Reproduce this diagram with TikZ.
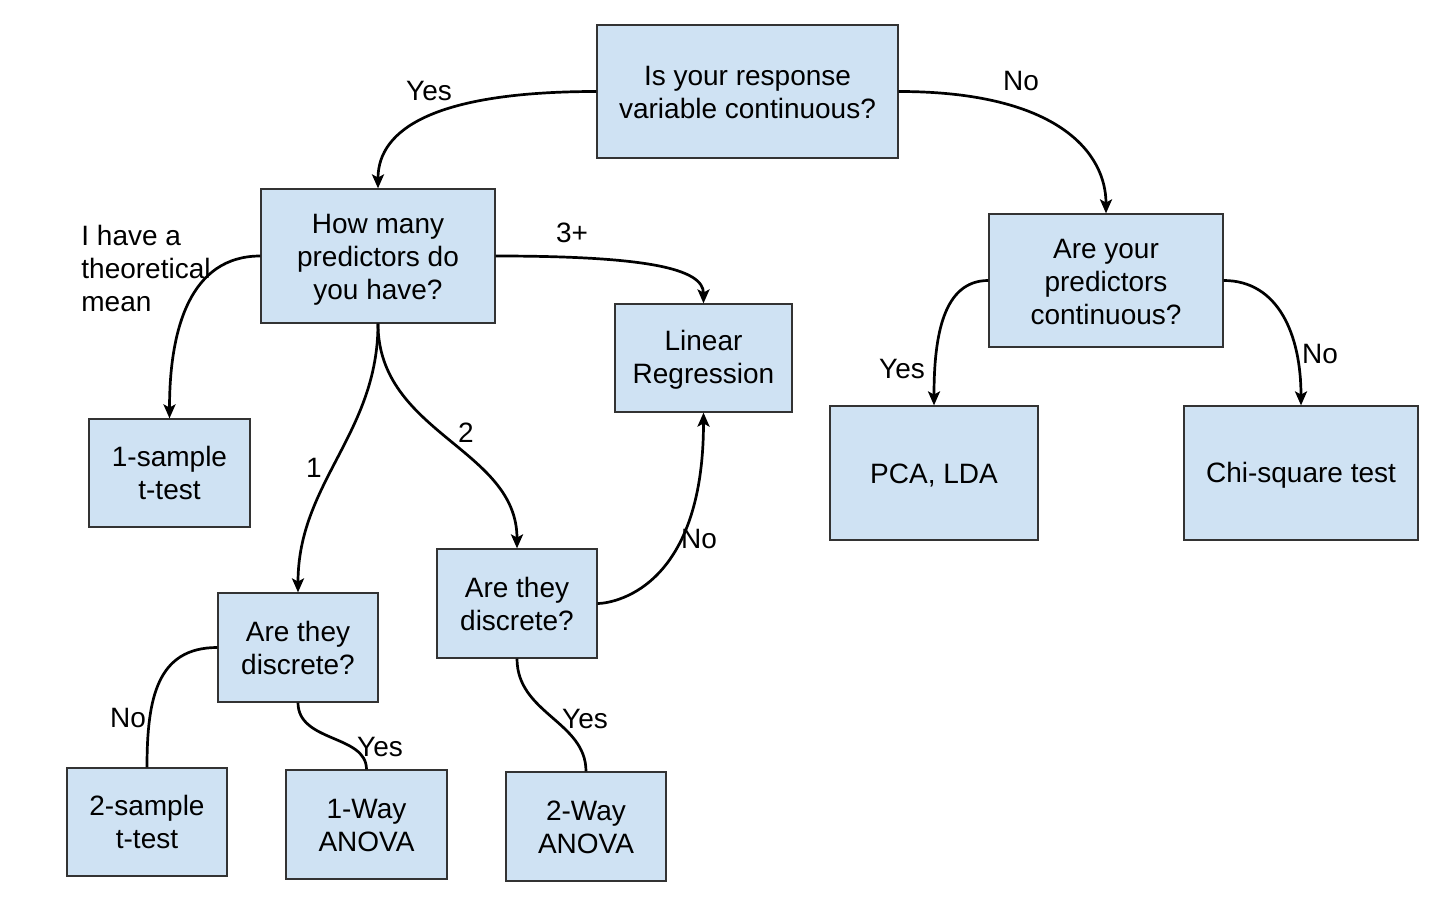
\documentclass[tikz,border=0pt]{standalone}
\usepackage{fontspec}
\setmainfont{Liberation Sans}
\usetikzlibrary{arrows.meta}
\definecolor{boxfill}{HTML}{CFE2F3}
\definecolor{boxline}{HTML}{333333}
\newcommand{\tsh}[1]{\rule{0pt}{#1pt}}
\begin{document}
\begin{tikzpicture}[x=0.5pt,y=-0.5pt,
  box/.style={draw=boxline,line width=0.6pt,fill=boxfill,align=center,inner sep=0pt,
    font=\fontsize{14}{16.5}\selectfont},
  lbl/.style={inner sep=0pt,font=\fontsize{14}{16.5}\selectfont},
  conn/.style={line width=1.35pt,black},
  arr/.style={conn,-{Stealth[length=7pt,width=6pt,inset=1.6pt]}}]
\useasboundingbox (0,0) rectangle (1446,914);
% boxes
\node[box,minimum width=150.5pt,minimum height=66.5pt] (top) at (747.5,91.5) {\tsh{11}Is your response\\variable continuous?};
\node[box,minimum width=117pt,minimum height=67pt] (many) at (378,256) {\tsh{13}How many\\predictors do\\you have?};
\node[box,minimum width=88.5pt,minimum height=54pt] (lin) at (703.5,358) {\tsh{12.3}Linear\\Regression};
\node[box,minimum width=117pt,minimum height=66.5pt] (cont) at (1106,280.5) {\tsh{10.8}Are your\\predictors\\continuous?};
\node[box,minimum width=104pt,minimum height=67pt] (pca) at (934,473) {\tsh{12}PCA, LDA};
\node[box,minimum width=117pt,minimum height=67pt] (chi) at (1301,473) {\tsh{12}Chi-square test};
\node[box,minimum width=80.5pt,minimum height=54pt] (one) at (169.5,473) {\tsh{10.5}1-sample\\t-test};
\node[box,minimum width=80pt,minimum height=54.5pt] (dA) at (298,647.5) {\tsh{11}Are they\\discrete?};
\node[box,minimum width=80pt,minimum height=54.5pt] (dB) at (517,603.5) {\tsh{10.5}Are they\\discrete?};
\node[box,minimum width=80pt,minimum height=54pt] (two) at (147,822) {2-sample\\t-test};
\node[box,minimum width=80.5pt,minimum height=54.5pt] (owa) at (366.5,824.5) {\tsh{10.5}1-Way\\ANOVA};
\node[box,minimum width=80pt,minimum height=54.5pt] (twa) at (586,826.5) {\tsh{10.8}2-Way\\ANOVA};
% connectors
\draw[arr] (top.west) .. controls +(-160,0) and +(0,-60) .. (many.north);
\draw[arr] (top.east) .. controls +(160,0) and +(0,-60) .. (cont.north);
\draw[arr] (many.west) .. controls +(-70,0) and +(0,-90) .. (one.north);
\draw[arr] (many.east) .. controls +(150,0) and +(0,-35) .. (lin.north);
\draw[arr] (many.south) .. controls +(0,110) and +(0,-110) .. (dA.north);
\draw[arr] (many.south) .. controls +(0,110) and +(0,-100) .. (dB.north);
\draw[arr] (dB.east) .. controls +(12,0) and +(0,180) .. (lin.south);
\draw[conn] (dA.west) .. controls +(-60,0) and +(0,-70) .. (two.north);
\draw[conn] (dA.south) .. controls +(0,40) and +(0,-35) .. (owa.north);
\draw[conn] (dB.south) .. controls +(0,55) and +(0,-50) .. (twa.north);
\draw[arr] (cont.west) .. controls +(-45,0) and +(0,-70) .. (pca.north);
\draw[arr] (cont.east) .. controls +(55,0) and +(0,-70) .. (chi.north);
% labels
\node[lbl] (lyes1) at (429,91) {Yes};
\node[lbl] (lno1) at (1021,81) {No};
\node[lbl,anchor=west,align=left] (ltheo) at (81,268) {I have a\\theoretical\\mean};
\node[lbl] (l3) at (572,233) {3+};
\node[lbl] (l1) at (314,468) {1};
\node[lbl] (l2) at (466,433) {2};
\node[lbl] (lno2) at (699,539) {No};
\node[lbl] (lno3) at (128,718) {No};
\node[lbl] (lyes2) at (380,747) {Yes};
\node[lbl] (lyes3) at (585,719) {Yes};
\node[lbl] (lyes4) at (902,369) {Yes};
\node[lbl] (lno4) at (1320,354) {No};
\end{tikzpicture}
\end{document}
